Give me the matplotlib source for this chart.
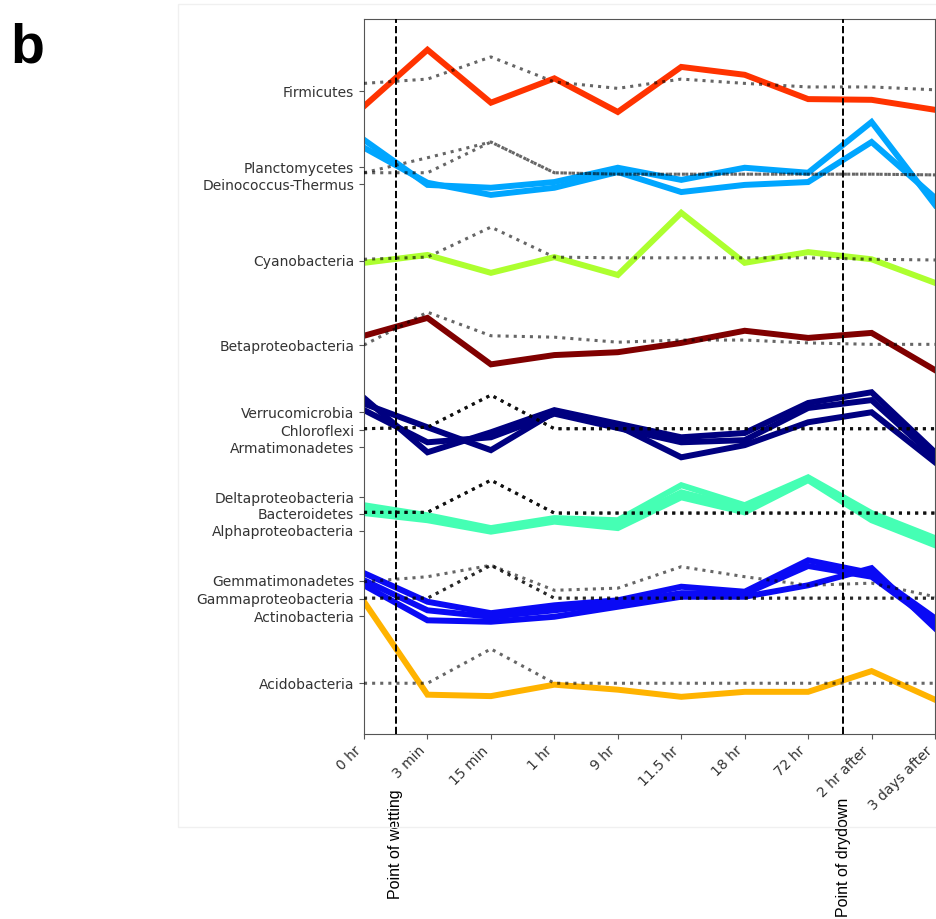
import numpy as np
import matplotlib.pyplot as plt
from matplotlib.patches import Rectangle

# ====== data ======
timepoints = ['0 hr', '3 min', '15 min', '1 hr', '9 hr', '11.5 hr', '18 hr',
              '72 hr', '2 hr after', '3 days after']

# phylum tick positions (top to bottom)
phyla = ['Firmicutes', 'Planctomycetes', 'Deinococcus-Thermus', 'Cyanobacteria',
         'Betaproteobacteria', 'Verrucomicrobia', 'Chloroflexi', 'Armatimonadetes',
         'Deltaproteobacteria', 'Bacteroidetes', 'Alphaproteobacteria',
         'Gemmatimonadetes', 'Gammaproteobacteria', 'Actinobacteria', 'Acidobacteria']
label_pos = [89.9, 79.3, 76.9, 66.2, 54.4, 45.0, 42.5, 40.1,
             33.1, 30.8, 28.4, 21.4, 18.9, 16.5, 7.1]

# observed (solid) and expected (dotted) trajectories, offset per phylum
firmicutes = [87.8, 95.7, 88.3, 91.7, 87.0, 93.3, 92.2, 88.8, 88.7, 87.3]
firmicutes_exp = [91.0, 91.6, 94.7, 91.2, 90.3, 91.6, 91.0, 90.5, 90.5, 90.1]

planctomycetes = [83.1, 76.8, 76.4, 77.2, 79.2, 77.5, 79.2, 78.5, 85.6, 74.0]
planctomycetes_exp = [78.5, 80.6, 82.8, 78.5, 78.3, 78.3, 78.3, 78.3, 78.3, 78.2]
deinococcus = [82.0, 77.1, 75.4, 76.4, 78.6, 75.8, 76.8, 77.2, 82.8, 75.0]
deinococcus_exp = [78.5, 78.5, 82.8, 78.5, 78.3, 78.3, 78.3, 78.3, 78.3, 78.2]

cyanobacteria = [65.9, 67.0, 64.5, 66.7, 64.2, 72.9, 65.9, 67.4, 66.4, 63.1]
cyanobacteria_exp = [66.4, 66.7, 70.9, 66.7, 66.6, 66.6, 66.6, 66.6, 66.4, 66.3]

betaproteo = [55.7, 58.2, 51.7, 53.0, 53.4, 54.7, 56.4, 55.4, 56.1, 50.9]
betaproteo_exp = [54.4, 59.0, 55.7, 55.5, 54.8, 55.1, 55.1, 54.7, 54.5, 54.5]

verrucomicrobia = [47.0, 39.4, 42.2, 45.3, 43.4, 41.5, 42.1, 46.3, 47.8, 39.4]
chloroflexi = [46.2, 42.9, 39.7, 45.0, 43.1, 38.7, 40.4, 43.6, 45.0, 38.0]
armatimonadetes = [45.3, 40.8, 41.5, 44.8, 42.8, 40.8, 41.1, 45.6, 46.7, 38.7]
navy_exp = [42.7, 42.9, 47.4, 42.7, 42.7, 42.7, 42.7, 42.7, 42.7, 42.7]

deltaproteo = [32.0, 30.6, 28.8, 30.2, 29.9, 34.8, 32.0, 35.9, 30.9, 27.4]
bacteroidetes = [31.3, 30.3, 28.5, 29.9, 29.4, 33.8, 31.6, 35.8, 30.2, 26.9]
alphaproteo = [30.9, 29.9, 28.3, 29.7, 28.8, 33.1, 31.0, 35.5, 29.9, 26.4]
teal_exp = [31.0, 31.0, 35.5, 30.9, 30.9, 30.9, 30.9, 30.9, 30.9, 30.9]

gemmatimonadetes = [22.5, 18.5, 16.9, 18.0, 18.7, 20.6, 19.9, 24.3, 22.5, 16.2]
gemmatimonadetes_exp = [21.3, 22.0, 23.6, 20.1, 20.4, 23.4, 22.0, 20.8, 21.1, 19.2]
gammaproteo = [21.5, 17.3, 16.4, 17.3, 18.3, 19.7, 19.6, 23.5, 22.0, 15.5]
actinobacteria = [20.8, 15.9, 15.7, 16.4, 17.8, 19.2, 19.2, 20.8, 23.2, 14.8]
blue_exp = [19.0, 19.0, 23.6, 19.0, 19.0, 19.0, 19.0, 19.0, 19.0, 19.0]

acidobacteria = [18.5, 5.5, 5.3, 6.9, 6.2, 5.2, 5.9, 5.9, 8.8, 4.8]
acidobacteria_exp = [7.1, 7.1, 11.9, 7.1, 7.1, 7.1, 7.1, 7.1, 7.1, 7.1]

wetting_x = 0.5
drydown_x = 7.55

series = [
    (firmicutes, firmicutes_exp, '#ff3300'),
    (planctomycetes, planctomycetes_exp, '#00a6ff'),
    (deinococcus, deinococcus_exp, '#00a6ff'),
    (cyanobacteria, cyanobacteria_exp, '#adff2f'),
    (betaproteo, betaproteo_exp, '#800000'),
    (verrucomicrobia, navy_exp, '#000080'),
    (chloroflexi, navy_exp, '#000080'),
    (armatimonadetes, navy_exp, '#000080'),
    (deltaproteo, teal_exp, '#45ffb4'),
    (bacteroidetes, teal_exp, '#45ffb4'),
    (alphaproteo, teal_exp, '#45ffb4'),
    (gemmatimonadetes, gemmatimonadetes_exp, '#0a0af5'),
    (gammaproteo, blue_exp, '#0a0af5'),
    (actinobacteria, blue_exp, '#0a0af5'),
    (acidobacteria, acidobacteria_exp, '#ffb300'),
]

# ====== figure ======
fig = plt.figure(figsize=(9.37, 9.19), dpi=100)
ax = fig.add_axes([0.3885, 0.2013, 0.6094, 0.7780])

x = np.arange(len(timepoints))
for obs, exp, col in series:
    ax.plot(x, obs, color=col, lw=4.3, solid_joinstyle='miter', zorder=2)
for obs, exp, col in series:
    ax.plot(x, exp, color='black', alpha=0.6, lw=2.2, ls=':', zorder=3)

ax.axvline(wetting_x, color='black', lw=1.4, ls='--', zorder=4)
ax.axvline(drydown_x, color='black', lw=1.4, ls='--', zorder=4)

ax.set_xlim(0, len(timepoints) - 1)
ax.set_ylim(0, 100)
ax.set_xticks(x)
ax.set_xticklabels(timepoints, rotation=45, ha='right', fontsize=10, color='#333333')
ax.set_yticks(label_pos)
ax.set_yticklabels(phyla, fontsize=10, color='#333333')
ax.tick_params(color='#555555', length=3.5)
for sp in ax.spines.values():
    sp.set_color('#555555')

tr = ax.get_xaxis_transform()
ax.text(wetting_x, -0.078, 'Point of wetting', transform=tr, rotation=90,
        ha='center', va='top', fontsize=11.5, family='Liberation Sans', clip_on=False)
ax.text(drydown_x, -0.0895, 'Point of drydown', transform=tr, rotation=90,
        ha='center', va='top', fontsize=11.5, family='Liberation Sans', clip_on=False)

# faint frame around the panel and the panel letter
fig.patches.append(Rectangle((0.19, 0.1), 0.83, 0.896, transform=fig.transFigure,
                             fill=False, edgecolor='#f0f0f0', lw=1))
fig.text(0.0107, 0.9325, 'b', fontsize=40, fontweight='bold',
         family='Liberation Sans', va='baseline', ha='left')

fig.savefig('out.png', dpi=100)
